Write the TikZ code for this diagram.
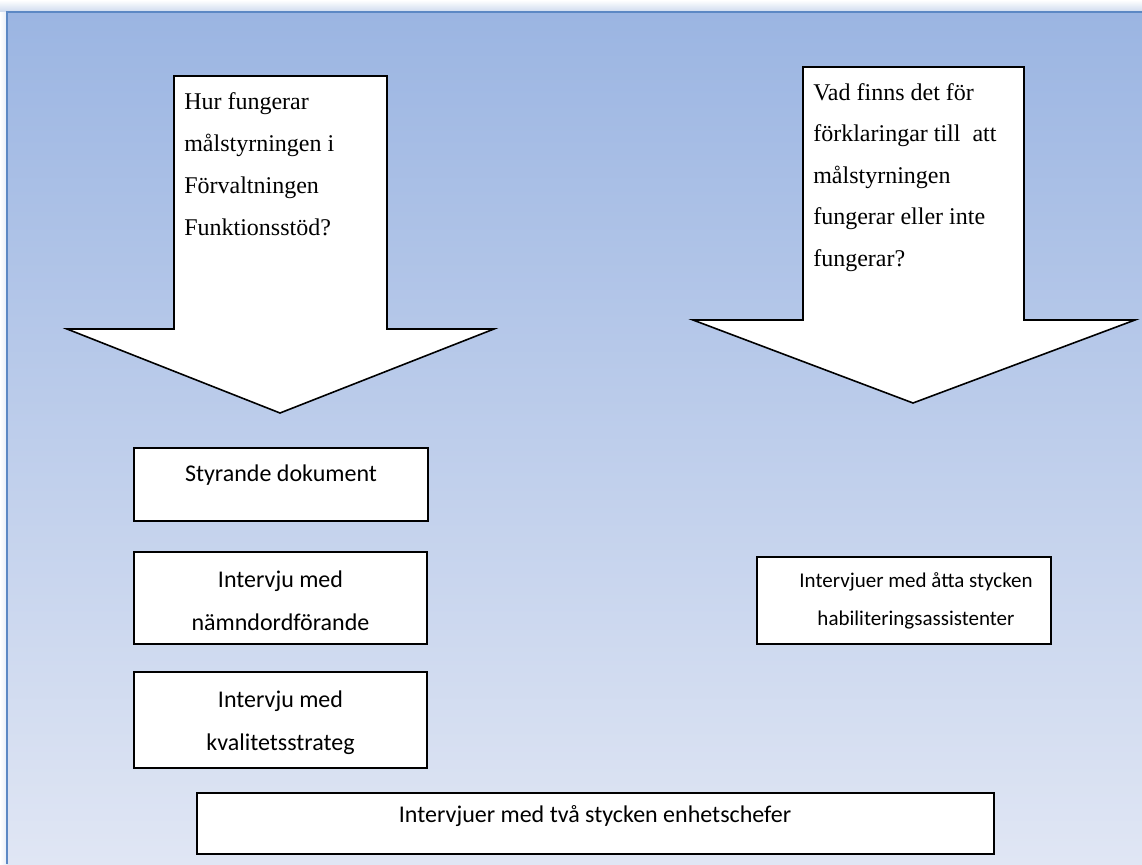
\documentclass[tikz,border=0pt]{standalone}
\usepackage{fontspec}
\setmainfont{Liberation Serif}
\newfontfamily\calfont{Carlito}
\definecolor{bgtop}{RGB}{155,181,226}
\definecolor{bgbot}{RGB}{224,230,244}
\definecolor{edgeblue}{RGB}{92,136,196}
\definecolor{shadowblue}{RGB}{205,218,238}
\begin{document}
\begin{tikzpicture}[x=0.75pt,y=-0.75pt,
  box/.style={draw=black, fill=white, line width=1.2pt, inner sep=0pt},
  bx/.style={font=\calfont\fontsize{18}{21}\selectfont, anchor=base, inner sep=0pt},
  bxs/.style={font=\calfont\fontsize{15.75}{19}\selectfont, anchor=base, inner sep=0pt},
  qt/.style={font=\fontsize{18}{21}\selectfont, anchor=base west, inner sep=0pt},
  arr/.style={draw=black, fill=white, line width=1.2pt, line join=miter}]
\useasboundingbox (0,0) rectangle (1142,864);
\fill[white] (0,0) rectangle (1142,864);
\shade[top color=white, bottom color=shadowblue] (0,0) rectangle (1142,12);
\shade[left color=white, right color=shadowblue!50] (0,12) rectangle (7,864);
\shade[top color=bgtop, bottom color=bgbot] (7,12) rectangle (1142,864);
\draw[edgeblue, line width=1pt] (7,864) -- (7,12) -- (1142,12);

% left arrow
\draw[arr] (174,76) -- (387,76) -- (387,329) -- (494,329) -- (280,413) -- (67,329) -- (174,329) -- cycle;
\node[qt] (q1a) at (184,109) {Hur fungerar};
\node[qt] (q1b) at (184,151) {målstyrningen i};
\node[qt] (q1c) at (184,193) {Förvaltningen};
\node[qt] (q1d) at (184,235) {Funktionsstöd?};

% right arrow
\draw[arr] (803,67) -- (1024,67) -- (1024,320) -- (1135,320) -- (913,403) -- (693,320) -- (803,320) -- cycle;
\node[qt] (q2a) at (813,100) {Vad finns det för};
\node[qt] (q2b) at (813,141.5) {förklaringar till\ \ att};
\node[qt] (q2c) at (813,183) {målstyrningen};
\node[qt] (q2d) at (813,224.5) {fungerar eller inte};
\node[qt] (q2e) at (813,266) {fungerar?};

% boxes
\node[box, minimum width=220.5pt, minimum height=54.75pt] (styr) at (281,484.5) {};
\node[bx] (styrT) at (281,481) {Styrande dokument};

\node[box, minimum width=219.75pt, minimum height=69pt] (namnd) at (280.5,598) {};
\node[bx] (namndA) at (280.5,587) {Intervju med};
\node[bx] (namndB) at (280.5,630) {nämndordförande};

\node[box, minimum width=219.75pt, minimum height=72pt] (kval) at (280.5,720) {};
\node[bx] (kvalA) at (280.5,707) {Intervju med};
\node[bx] (kvalB) at (280.5,750) {kvalitetsstrateg};

\node[box, minimum width=220.5pt, minimum height=65.25pt] (hab) at (904,600.5) {};
\node[bxs] (habA) at (916,587) {Intervjuer med åtta stycken};
\node[bxs] (habB) at (916,625) {habiliteringsassistenter};

\node[box, minimum width=597.75pt, minimum height=45.75pt] (enh) at (595.5,823.5) {};
\node[bx] (enhT) at (595,822) {Intervjuer med två stycken enhetschefer};
\end{tikzpicture}
\end{document}
